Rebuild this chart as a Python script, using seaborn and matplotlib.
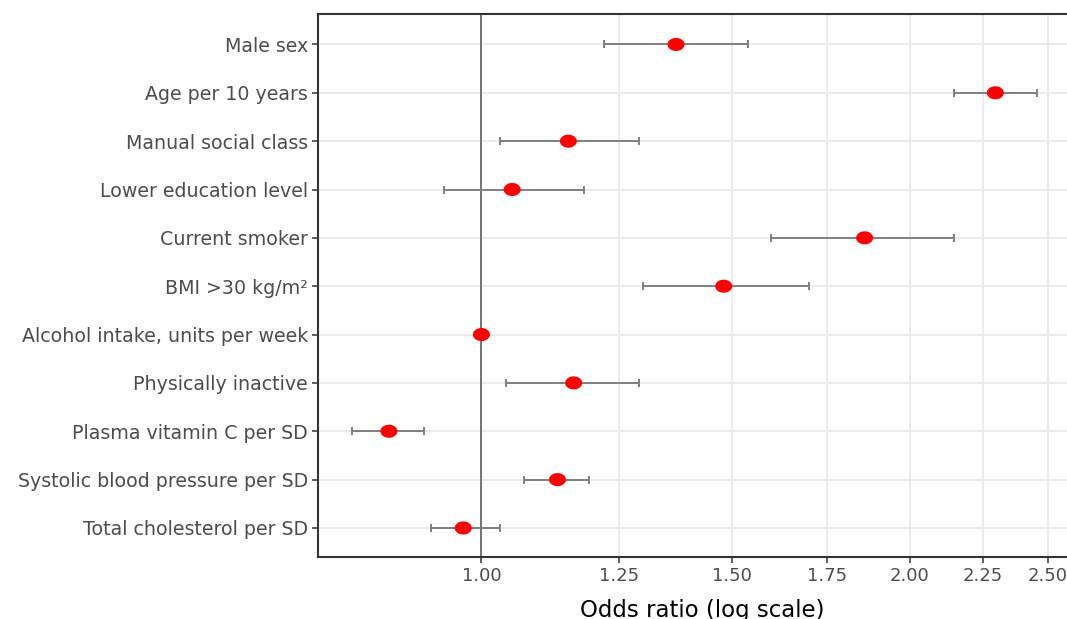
import numpy as np
import pandas as pd
import matplotlib
matplotlib.use("Agg")
import matplotlib.pyplot as plt
from matplotlib.path import Path
from matplotlib.ticker import FixedLocator, FixedFormatter, NullLocator
import seaborn as sns

# Risk factors and their odds ratios with 95% confidence limits
factors = [
    "Male sex",
    "Age per 10 years",
    "Manual social class",
    "Lower education level",
    "Current smoker",
    "BMI >30 kg/m²",
    "Alcohol intake, units per week",
    "Physically inactive",
    "Plasma vitamin C per SD",
    "Systolic blood pressure per SD",
    "Total cholesterol per SD",
]
odds_ratio = [1.370, 2.297, 1.151, 1.051, 1.859, 1.480, 1.000, 1.161, 0.861, 1.131, 0.971]
ci_lower = [1.220, 2.148, 1.031, 0.941, 1.599, 1.299, 0.996, 1.041, 0.811, 1.072, 0.921]
ci_upper = [1.540, 2.457, 1.290, 1.180, 2.148, 1.700, 1.004, 1.290, 0.911, 1.191, 1.031]

x_ticks = [1.00, 1.25, 1.50, 1.75, 2.00, 2.25, 2.50]
x_tick_labels = ["1.00", "1.25", "1.50", "1.75", "2.00", "2.25", "2.50"]

df = pd.DataFrame({"factor": factors, "or": odds_ratio, "lo": ci_lower, "hi": ci_upper})

sns.set_theme(style="white")
plt.rcParams["font.family"] = ["DejaVu Sans"]

fig = plt.figure(figsize=(10.67, 6.19), dpi=100)
ax = fig.add_axes([0.2980, 0.1002, 0.7207, 0.8772])

ax.set_xscale("log")
ax.set_xlim(0.7676, 2.664)
ax.set_ylim(10.6, -0.63)

# grid: horizontal line per factor, vertical line per major tick
grid_kw = dict(color="#ebebeb", lw=1.4, zorder=0)
for i in range(len(factors)):
    ax.axhline(i, **grid_kw)
for t in x_ticks:
    ax.axvline(t, **grid_kw)

# reference line at OR = 1
ax.axvline(1.0, color="#6b6b6b", lw=1.3, zorder=1)

# confidence intervals
ypos = np.arange(len(factors))
ax.errorbar(df["or"], ypos,
            xerr=[df["or"] - df["lo"], df["hi"] - df["or"]],
            fmt="none", ecolor="#808080", elinewidth=1.4, capsize=3.0,
            capthick=1.4, zorder=2)

# point estimates (slightly wide oval markers)
theta = np.linspace(0, 2 * np.pi, 60)
oval = Path(np.column_stack([1.3 * np.cos(theta), np.sin(theta)]), closed=True)
sns.scatterplot(data=df, x="or", y=ypos, marker=oval, s=150, color="#ff0000",
                edgecolor="none", linewidth=0, ax=ax, zorder=3, legend=False)

ax.set_yticks(ypos)
ax.set_yticklabels(factors)
ax.xaxis.set_major_locator(FixedLocator(x_ticks))
ax.xaxis.set_major_formatter(FixedFormatter(x_tick_labels))
ax.xaxis.set_minor_locator(NullLocator())

ax.tick_params(axis="both", which="major", length=4, width=1.1, color="#333333",
               labelcolor="#4d4d4d", pad=3, bottom=True, left=True)
ax.tick_params(axis="y", labelsize=13.7)
ax.tick_params(axis="x", labelsize=13)
ax.set_ylabel("")
ax.set_xlabel("Odds ratio (log scale)", fontsize=16.5, color="black")
ax.xaxis.set_label_coords(0.5, -0.078)

for side in ["left", "top", "bottom"]:
    ax.spines[side].set_visible(True)
    ax.spines[side].set_color("#333333")
    ax.spines[side].set_linewidth(1.5)
ax.spines["right"].set_visible(False)

ax.grid(False)
fig.savefig("out.png", dpi=100)
